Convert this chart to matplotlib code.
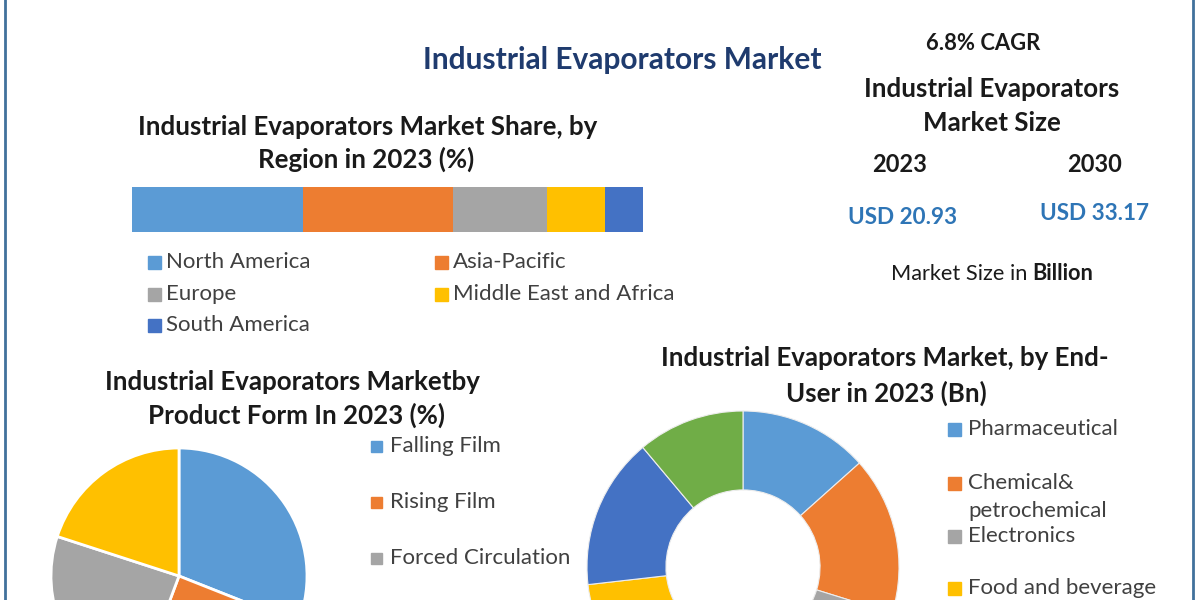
import matplotlib
matplotlib.use("Agg")
import matplotlib.pyplot as plt
from matplotlib.patches import Rectangle

# ---------------- data ----------------
region_labels = ["North America", "Asia-Pacific", "Europe", "Middle East and Africa", "South America"]
region_share = [33.4, 29.4, 18.5, 11.3, 7.4]

product_labels = ["Falling Film", "Rising Film", "Forced Circulation"]
product_share = [31.0, 24.7, 24.3, 20.0]

enduser_labels = ["Pharmaceutical", "Chemical&\npetrochemical", "Electronics", "Food and beverage"]
enduser_values = [13.4, 16.4, 22.0, 21.4, 15.7, 11.1]

market_years = ["2023", "2030"]
market_values = ["USD 20.93", "USD 33.17"]
cagr_text = "6.8% CAGR"

palette = ["#5B9BD5", "#ED7D31", "#A5A5A5", "#FFC000", "#4472C4", "#70AD47"]

W, H = 1200, 600
FONT = "Lato"
plt.rcParams['font.family'] = [FONT, 'DejaVu Sans']

fig = plt.figure(figsize=(12, 6), dpi=100)
fig.patch.set_facecolor("white")


def px_axes(x0, y0, w, h, **kw):
    """axes from pixel box (top-left origin)"""
    return fig.add_axes([x0 / W, (H - y0 - h) / H, w / W, h / H], **kw)


# ---------------- stacked region bar ----------------
axb = px_axes(132, 187, 511, 45)
left = 0
for v, c in zip(region_share, palette):
    axb.barh(0, v, left=left, height=1.0, color=c, edgecolor="none")
    left += v
axb.set_xlim(0, sum(region_share))
axb.set_ylim(-0.5, 0.5)
axb.axis("off")

# ---------------- product form pie ----------------
cx, cy, R = 179, 576, 128
axp = px_axes(cx - R, cy - R, 2 * R, 2 * R)
axp.pie(product_share, colors=palette[:len(product_share)], startangle=90,
        counterclock=False, radius=1.0,
        wedgeprops=dict(edgecolor="white", linewidth=2))
axp.set_xlim(-1, 1)
axp.set_ylim(-1, 1)
axp.set_aspect("equal")
axp.axis("off")

# ---------------- end-user donut ----------------
dx, dy, DR = 743, 567, 156
axd = px_axes(dx - DR, dy - DR, 2 * DR, 2 * DR)
axd.pie(enduser_values, colors=palette[:len(enduser_values)], startangle=90,
        counterclock=False, radius=1.0,
        wedgeprops=dict(width=0.506, edgecolor="#EDEDED", linewidth=0.8))
axd.set_xlim(-1, 1)
axd.set_ylim(-1, 1)
axd.set_aspect("equal")
axd.axis("off")

# ---------------- overlay for text ----------------
ov = fig.add_axes([0, 0, 1, 1], zorder=10)
ov.set_xlim(0, W)
ov.set_ylim(H, 0)
ov.axis("off")
ov.patch.set_alpha(0)

DARK = "#1a1a1a"
LEG = "#404040"
SEC = 18.6
LEGFS = 16

# frame lines
ov.plot([5, 5], [0, H], color="#41719C", lw=2)
ov.plot([1193, 1193], [0, H], color="#41719C", lw=2)

# main title
ov.text(622, 60, "Industrial Evaporators Market", ha="center", va="center",
        fontsize=21.5, fontweight="bold", color="#1F3B6E")

# region section
ov.text(368, 127, "Industrial Evaporators Market Share, by", ha="center", va="center",
        fontsize=SEC, fontweight="bold", color=DARK)
ov.text(366, 159, "Region in 2023 (%)", ha="center", va="center",
        fontsize=SEC, fontweight="bold", color=DARK)

leg_pos = [(148, 262), (435, 262), (148, 294), (435, 294), (148, 325)]
for (lx, ly), lab, c in zip(leg_pos, region_labels, palette):
    ov.add_patch(Rectangle((lx, ly - 6.5), 13, 13, color=c))
    ov.text(lx + 18, ly, lab, ha="left", va="center", fontsize=LEGFS, color=LEG)

# right info panel
ov.text(983, 44, cagr_text, ha="center", va="center", fontsize=15.8,
        fontweight="bold", color=DARK)
ov.text(992, 89, "Industrial Evaporators", ha="center", va="center", fontsize=SEC,
        fontweight="bold", color=DARK)
ov.text(992, 123, "Market Size", ha="center", va="center", fontsize=SEC,
        fontweight="bold", color=DARK)
for xx, yr in zip([900, 1095], market_years):
    ov.text(xx, 164, yr, ha="center", va="center", fontsize=17,
            fontweight="bold", color=DARK)
for xx, yy, val in zip([903, 1094], [218, 213], market_values):
    ov.text(xx, yy, val, ha="center", va="center", fontsize=16.2,
            fontweight="bold", color="#2E75B6")

# "Market Size in Billion" with bold last word, centred as a whole
renderer = fig.canvas.get_renderer()
t1 = ov.text(0, 274, "Market Size in ", ha="left", va="center",
             fontsize=15.7, color=DARK)
t2 = ov.text(0, 274, "Billion", ha="left", va="center",
             fontsize=15.7, fontweight="bold", color=DARK)
w1 = t1.get_window_extent(renderer).width
w2 = t2.get_window_extent(renderer).width
start = 992 - (w1 + w2) / 2
t1.set_x(start)
t2.set_x(start + w1)

# product section
ov.text(292, 382, "Industrial Evaporators Marketby", ha="center", va="center",
        fontsize=SEC, fontweight="bold", color=DARK)
ov.text(296, 415, "Product Form In 2023 (%)", ha="center", va="center",
        fontsize=SEC, fontweight="bold", color=DARK)
for i, (lab, c) in enumerate(zip(product_labels, palette)):
    ly = 446 + i * 56
    ov.add_patch(Rectangle((371, ly - 5.5), 11, 11, color=c))
    ov.text(390, ly, lab, ha="left", va="center", fontsize=LEGFS, color=LEG)

# end-user section
ov.text(885, 358, "Industrial Evaporators Market, by End-", ha="center", va="center",
        fontsize=SEC, fontweight="bold", color=DARK)
ov.text(886, 393, "User in 2023 (Bn)", ha="center", va="center",
        fontsize=SEC, fontweight="bold", color=DARK)
eu_y = [429, 483, 536, 588]
for ly, lab, c in zip(eu_y, enduser_labels, palette):
    ov.add_patch(Rectangle((948, ly - 6.5), 13, 13, color=c))
    lines = lab.split("\n")
    for k, line in enumerate(lines):
        ov.text(968, ly + 28 * k, line, ha="left", va="center",
                fontsize=LEGFS, color=LEG)

fig.savefig("out.png", dpi=100, facecolor="white")
